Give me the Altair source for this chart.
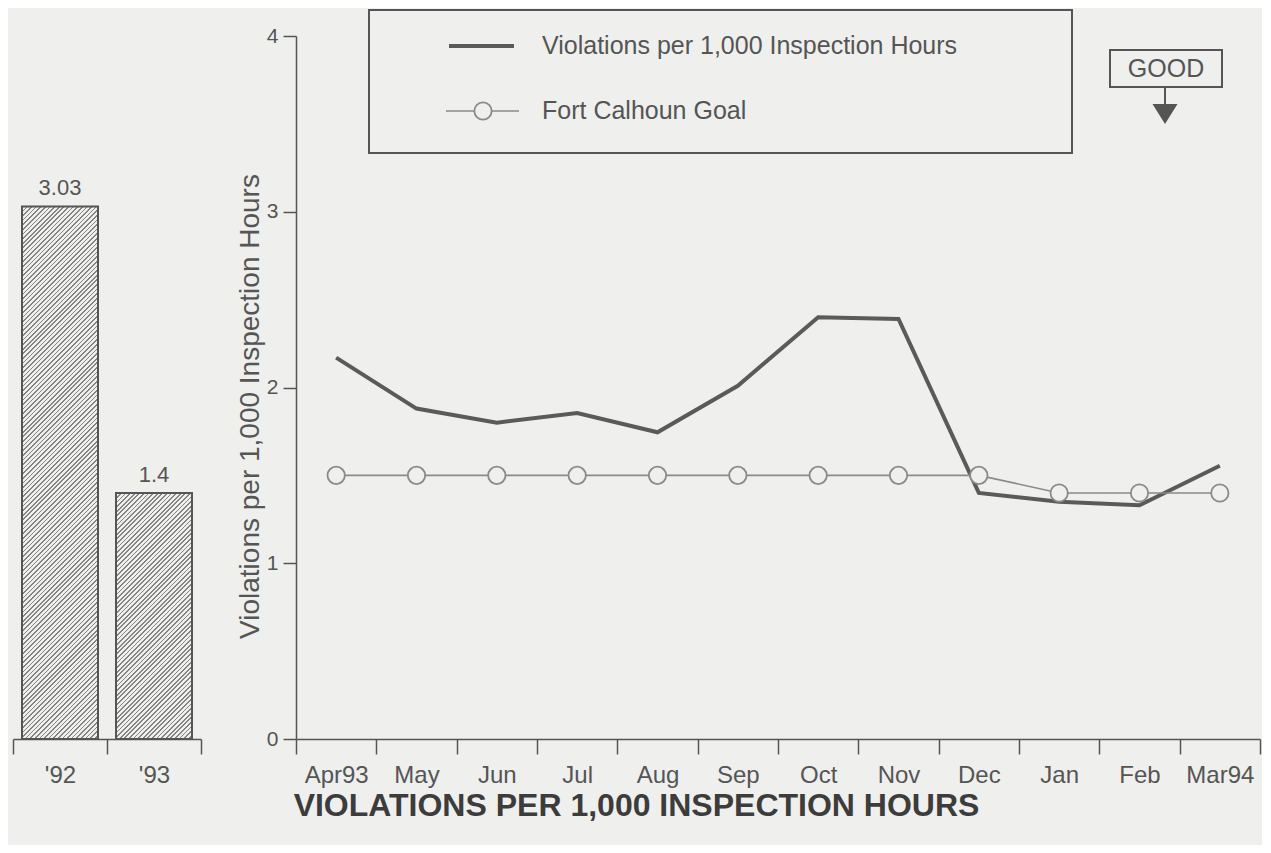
import altair as alt
import pandas as pd

# ---------------- data ----------------
years = ["'92", "'93"]
year_values = [3.03, 1.4]

months = ["Apr93", "May", "Jun", "Jul", "Aug", "Sep", "Oct", "Nov", "Dec", "Jan", "Feb", "Mar94"]
violations = [2.17, 1.88, 1.80, 1.855, 1.745, 2.01, 2.40, 2.39, 1.40, 1.35, 1.33, 1.555]
goal = [1.5, 1.5, 1.5, 1.5, 1.5, 1.5, 1.5, 1.5, 1.5, 1.4, 1.4, 1.4]

series_names = ["Violations per 1,000 Inspection Hours", "Fort Calhoun Goal"]
y_ticks = [0, 1, 2, 3, 4]
good_label = "GOOD"
main_title = "VIOLATIONS PER 1,000 INSPECTION HOURS"

# ---------------- style ----------------
BG = "#efefed"
INK = "#555555"
LINE_DARK = "#5a5a5a"
LINE_LIGHT = "#8a8a8a"
HATCH = "#858585"
FONT = "Liberation Sans"

PLOT_H = 703
LEFT_W = 188
RIGHT_W = 964
Y_MAX = 4
BAR_W = 76

y_scale = alt.Scale(domain=[0, Y_MAX], nice=False, zero=True)


def hatch(w, h, period=4.6, frac=0.36):
    r = h / w
    a = (1 + r) / (1 + r * r)
    b = a * r
    n = int(round((w + h) / period))
    stops = []
    for i in range(n):
        o0 = i / n
        o1 = (i + frac) / n
        o2 = (i + 1) / n
        stops += [
            alt.GradientStop(color=HATCH, offset=o0),
            alt.GradientStop(color=HATCH, offset=o1),
            alt.GradientStop(color=BG, offset=o1),
            alt.GradientStop(color=BG, offset=o2),
        ]
    return alt.LinearGradient(gradient="linear", stops=stops, x1=0, y1=0, x2=a, y2=b)


x_axis_style = dict(
    title=None, labelAngle=0, tickBand="extent", tickSize=15, tickWidth=1.5,
    labelPadding=9, labelFontSize=24, labelColor=INK, domainColor=INK,
    tickColor=INK, domainWidth=1.5,
)

# ---------------- left: annual bars ----------------
bars_df = pd.DataFrame({"year": years, "value": year_values})
bx = alt.X(
    "year:N",
    sort=years,
    scale=alt.Scale(domain=years, paddingInner=0, paddingOuter=0),
    axis=alt.Axis(**x_axis_style),
)
by = alt.Y("value:Q", scale=y_scale, axis=None)

bar_layers = []
for yr, val in zip(years, year_values):
    bar_layers.append(
        alt.Chart(bars_df)
        .transform_filter(alt.datum.year == yr)
        .mark_bar(size=BAR_W, fill=hatch(BAR_W, val * PLOT_H / Y_MAX), stroke=INK, strokeWidth=2)
        .encode(x=bx, y=by)
    )
bar_text = (
    alt.Chart(bars_df)
    .mark_text(baseline="bottom", dy=-6, fontSize=22, color=INK, font=FONT)
    .encode(x=bx, y=by, text=alt.Text("value:Q"))
)
left = alt.layer(*bar_layers, bar_text).properties(width=LEFT_W, height=PLOT_H)

# ---------------- right: monthly lines ----------------
line_df = pd.DataFrame({"month": months, "violations": violations, "goal": goal})
mx = alt.X(
    "month:N",
    sort=months,
    scale=alt.Scale(domain=months, paddingInner=0, paddingOuter=0),
    axis=alt.Axis(**x_axis_style),
)
y_axis = alt.Axis(
    values=y_ticks, format="d", title=series_names[0], titleFontSize=28, titleFontWeight="normal",
    titleColor=INK, titleX=-32, titleY=370, tickSize=13, tickWidth=1.5, labelPadding=5,
    labelFontSize=21, labelColor=INK, domainColor=INK, tickColor=INK, domainWidth=1.5,
    grid=False,
)

viol_line = (
    alt.Chart(line_df)
    .mark_line(color=LINE_DARK, strokeWidth=4)
    .encode(x=mx, y=alt.Y("violations:Q", scale=y_scale, axis=y_axis))
)
goal_line = (
    alt.Chart(line_df)
    .mark_line(color=LINE_LIGHT, strokeWidth=1.6)
    .encode(x=mx, y=alt.Y("goal:Q", scale=y_scale))
)
goal_pts = (
    alt.Chart(line_df)
    .mark_point(shape="circle", size=300, filled=False, fill=BG, fillOpacity=1,
                stroke=LINE_LIGHT, strokeWidth=1.8, opacity=1)
    .encode(x=mx, y=alt.Y("goal:Q", scale=y_scale))
)

one = pd.DataFrame({"k": [0]})
legend_box = alt.Chart(one).mark_rect(fill=BG, stroke=INK, strokeWidth=2).encode(
    x=alt.value(73), x2=alt.value(776), y=alt.value(-26), y2=alt.value(117)
)
leg_line1 = alt.Chart(one).mark_rule(color=LINE_DARK, strokeWidth=4).encode(
    x=alt.value(153), x2=alt.value(218), y=alt.value(10)
)
leg_text1 = alt.Chart(one).mark_text(align="left", baseline="middle", fontSize=25, color=INK, font=FONT).encode(
    x=alt.value(246), y=alt.value(10), text=alt.value(series_names[0])
)
leg_line2 = alt.Chart(one).mark_rule(color=LINE_LIGHT, strokeWidth=1.6).encode(
    x=alt.value(150), x2=alt.value(223), y=alt.value(75)
)
leg_pt2 = alt.Chart(one).mark_point(shape="circle", size=300, filled=False, fill=BG, fillOpacity=1,
                                    stroke=LINE_LIGHT, strokeWidth=1.8, opacity=1).encode(
    x=alt.value(187), y=alt.value(75)
)
leg_text2 = alt.Chart(one).mark_text(align="left", baseline="middle", fontSize=25, color=INK, font=FONT).encode(
    x=alt.value(246), y=alt.value(75), text=alt.value(series_names[1])
)

good_box = alt.Chart(one).mark_rect(fill=BG, stroke=INK, strokeWidth=2).encode(
    x=alt.value(814), x2=alt.value(926), y=alt.value(14), y2=alt.value(51)
)
good_text = alt.Chart(one).mark_text(align="center", baseline="middle", fontSize=25, color=INK, font=FONT).encode(
    x=alt.value(870), y=alt.value(33), text=alt.value(good_label)
)
good_stem = alt.Chart(one).mark_rule(color=INK, strokeWidth=2).encode(
    x=alt.value(869), y=alt.value(51), y2=alt.value(68)
)
good_arrow = alt.Chart(one).mark_point(shape="M-1,-0.8L1,-0.8L0,0.8Z", size=625, filled=True,
                                       color=INK, opacity=1).encode(
    x=alt.value(869), y=alt.value(78)
)

right = alt.layer(
    viol_line, goal_line, goal_pts,
    legend_box, leg_line1, leg_text1, leg_line2, leg_pt2, leg_text2,
    good_box, good_text, good_stem, good_arrow,
).properties(width=RIGHT_W, height=PLOT_H)

chart = (
    alt.hconcat(left, right, spacing=34)
    .properties(
        background=BG,
        padding={"left": 4, "top": 1, "right": 1, "bottom": 23},
        title=alt.TitleParams(
            text=main_title, orient="bottom", anchor="middle", fontSize=32,
            fontWeight="bold", color="#3c3c3c", font=FONT, offset=4,
        ),
    )
    .configure_view(stroke=None)
    .configure_axis(labelFont=FONT, titleFont=FONT)
)

chart.save("out.html", embed_options={"renderer": "svg", "actions": False})
